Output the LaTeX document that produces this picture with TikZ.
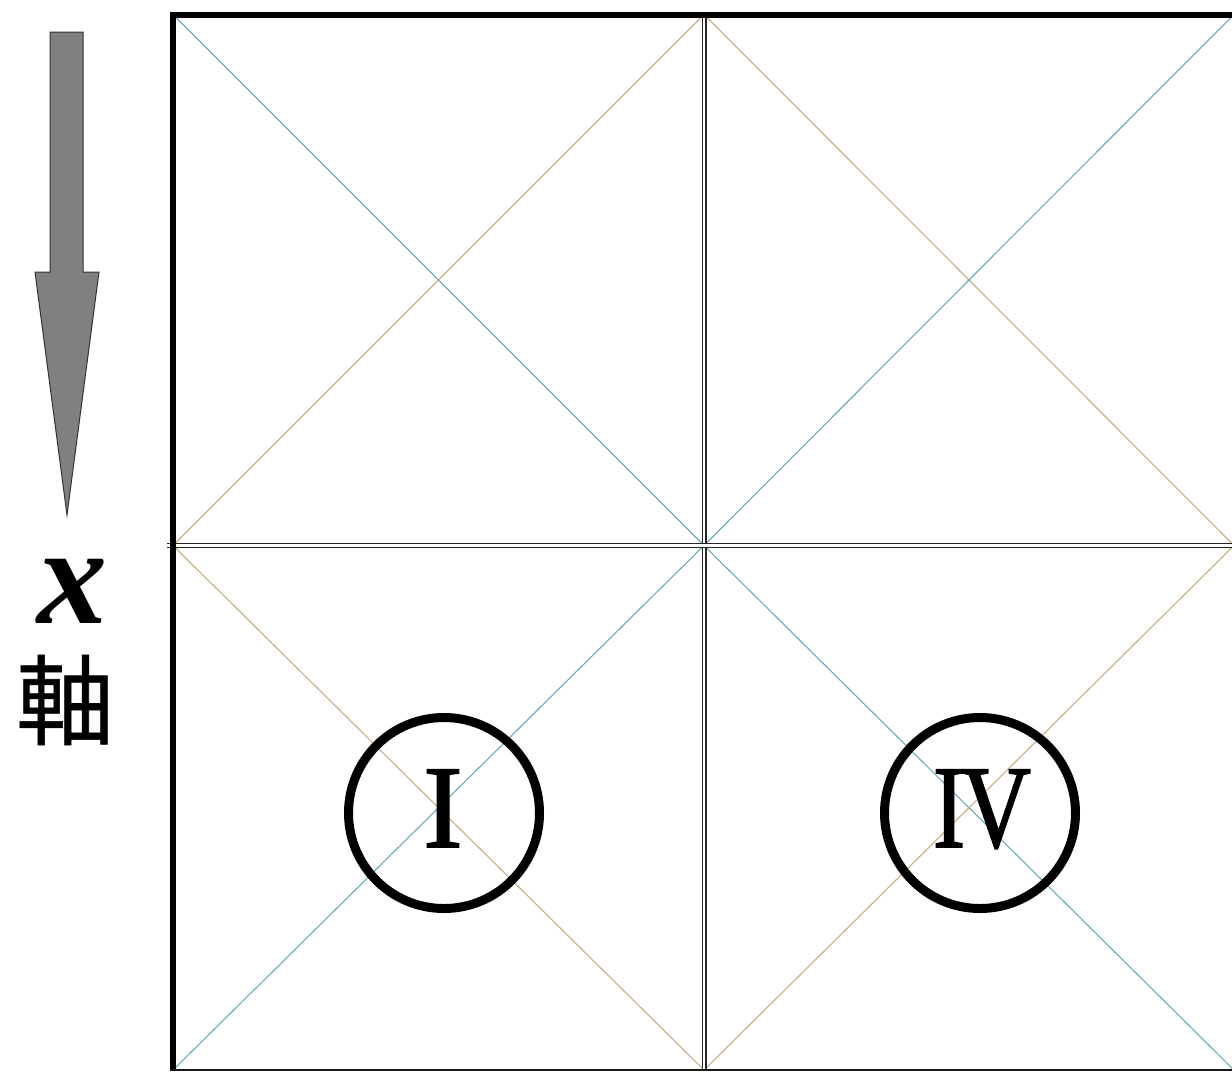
\documentclass[tikz,border=0pt]{standalone}
\usepackage{fontspec}
\setmainfont{Liberation Serif}
\newfontfamily\numfont{Liberation Serif}[FakeBold=1.6]
\newfontfamily\cjkfont{Noto Sans CJK JP}[FakeBold=0.6]
\definecolor{diagcyan}{RGB}{110,170,185}
\definecolor{diagtan}{RGB}{200,175,135}
\definecolor{arrowgray}{RGB}{128,128,128}
\tikzset{
  frameline/.style={line width=6pt, black},
  midline/.style={draw=black!85, double=white, double distance=2.6pt, line width=1.2pt},
  cyanline/.style={diagcyan, line width=1.1pt},
  tanline/.style={diagtan, line width=1.1pt},
  ring/.style={circle, draw=black, line width=9pt, minimum size=191pt, inner sep=0pt},
  numeral/.style={font=\numfont\fontsize{118}{118}\selectfont, inner sep=0pt, anchor=base},
}
\begin{document}
\begin{tikzpicture}[x=1pt,y=-1pt]
\useasboundingbox (0,0) rectangle (1232,1072);
\clip (0,0) rectangle (1232,1072);
\fill[white] (0,0) rectangle (1232,1072);
% grid corners
\coordinate (TL) at (173,14.5);
\coordinate (TM) at (704,14.5);
\coordinate (TR) at (1234,14.5);
\coordinate (ML) at (173,545.5);
\coordinate (C)  at (704,545.5);
\coordinate (MR) at (1234,545.5);
\coordinate (BL) at (173,1070);
\coordinate (BM) at (704,1070);
\coordinate (BR) at (1234,1070);
\coordinate (MLs) at (167,545.5);
\coordinate (BLs) at (170,1070);
% diagonals
\draw[cyanline] (TL) -- (C);
\draw[tanline] (ML) -- (TM);
\draw[tanline] (TM) -- (MR);
\draw[cyanline] (C) -- (TR);
\draw[tanline] (ML) -- (BM);
\draw[cyanline] (BL) -- (C);
\draw[cyanline] (C) -- (BR);
\draw[tanline] (BM) -- (MR);
% middle double lines
\draw[midline] (TM) -- (BM);
\draw[midline] (MLs) -- (MR);
% frame
\draw[frameline] ([yshift=-3pt]TL) -- ([yshift=1pt]BL);
\draw[frameline] ([xshift=-3pt]TL) -- (TR);
\draw[line width=2.5pt, black!90] (BLs) -- (BR);
% arrow
\coordinate (A0) at (50,32);
\draw[fill=arrowgray, draw=black!80, line width=1pt]
  (A0) -- (83,32) -- (83,272) -- (99,272) -- (67,515) -- (35,272) -- (50,272) -- cycle;
% axis label
\node[font=\fontsize{140}{140}\selectfont\bfseries\itshape, inner sep=0pt, anchor=base] (xlab) at (72,623) {x};
\node[font=\cjkfont\fontsize{98}{98}\selectfont, inner sep=0pt] (jiku) at (65,700) {軸};
% circled numerals
\node[ring] (c1) at (444,813) {};
\node[ring] (c4) at (980,813) {};
\node[numeral] (n1) at (443,847) {I};
\node[numeral] (n4) at (982,847) {\scalebox{0.82}[1]{I\kern-5pt V}};
\end{tikzpicture}
\end{document}
